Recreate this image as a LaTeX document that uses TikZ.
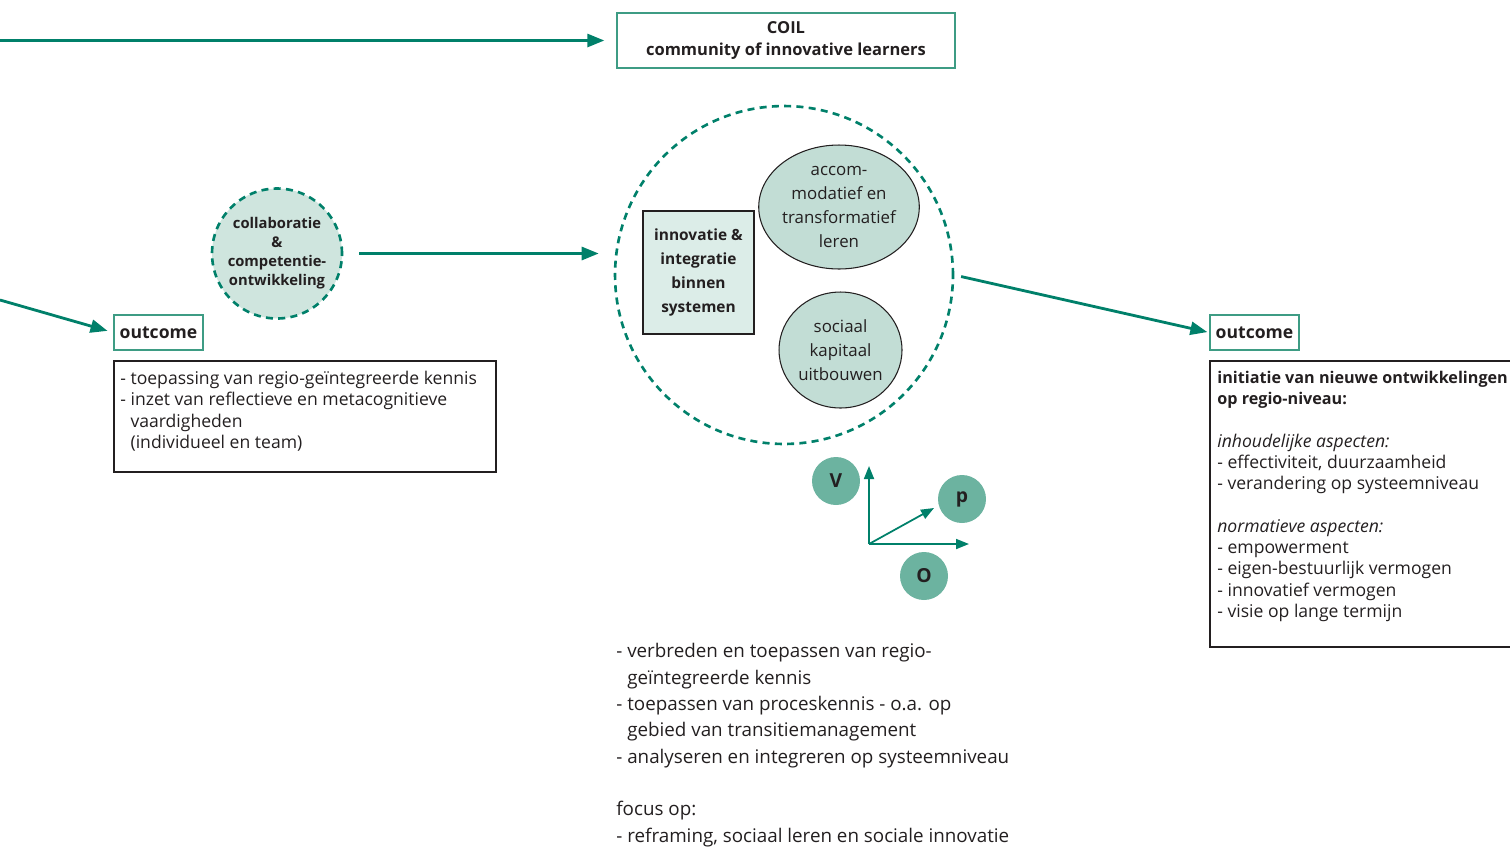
\documentclass[tikz,border=0pt]{standalone}
\usepackage{fontspec}
\setmainfont{Open Sans}
\usetikzlibrary{arrows.meta,shapes.geometric}
\definecolor{INK}{HTML}{231F20}
\definecolor{GREEN}{HTML}{00806A}
\definecolor{EDGE}{HTML}{3E9C84}
\definecolor{PALE}{HTML}{CFE5DE}
\definecolor{MINT}{HTML}{C2DDD5}
\definecolor{BOXF}{HTML}{DCEDE8}
\definecolor{DOT}{HTML}{6CB3A0}

\begin{document}
\begin{tikzpicture}[x=0.02cm,y=-0.02cm]
\tikzset{arr/.style={-{Triangle[length=3.4mm,width=2.6mm]},line width=1.6pt,GREEN},
 axarr/.style={-{Triangle[length=2.6mm,width=2mm]},line width=1pt,GREEN},
 dashring/.style={circle,draw=GREEN,line width=1.5pt,dash pattern=on 4pt off 3pt,inner sep=0},
 tagbox/.style={draw=EDGE,line width=0.8pt,font=\bfseries\fontsize{10}{12}\selectfont,inner sep=0,text=INK},
 txt/.style={inner sep=0,anchor=north west,align=left,text=INK,font=\fontsize{10}{12.1}\selectfont},
 blob/.style={ellipse,draw=INK,line width=0.6pt,fill=MINT,inner sep=0,align=center,text=INK,font=\fontsize{9.6}{13.6}\selectfont},
 dot/.style={circle,fill=DOT,minimum size=0.96cm,inner sep=0,text=INK,font=\bfseries\fontsize{11}{13}\selectfont}}
\useasboundingbox (0,0) rectangle (1510,846);
\clip (0,0) rectangle (1510,846);
% top: COIL
\node[tagbox,font=\bfseries\fontsize{9.4}{12}\selectfont,align=center,minimum width=6.76cm,minimum height=1.1cm] (coil) at (786,40.5) {COIL\\community of innovative learners};
\coordinate (topin) at (0,40.5);
\draw[arr,shorten >=0.24cm] (topin) -- (coil.west);
% left: collaboratie + outcome
\node[dashring,fill=PALE,minimum size=2.6cm,align=center,text=INK,font=\bfseries\fontsize{8.4}{10.8}\selectfont] (collab) at (277,253.5) {collaboratie\\\&\\competentie-\\ontwikkeling};
\node[tagbox,minimum width=1.78cm,minimum height=0.7cm] (outL) at (158.5,332.5) {outcome};
\coordinate (leftin) at (0,300);
\draw[arr,shorten >=0.12cm] (leftin) -- (outL.west);
\node[draw=INK,line width=0.7pt,minimum width=7.64cm,minimum height=2.22cm,inner sep=0] (resL) at (305,416.5) {};
\node[txt] (resLtxt) at (120,371) {- toepassing van regio-geïntegreerde kennis\\- inzet van reflectieve en metacognitieve\\\phantom{- }vaardigheden\\\phantom{- }(individueel en team)};
% centre
\node[dashring,minimum size=6.76cm] (coilring) at (784,275) {};
\draw[arr,shorten <=0.32cm,shorten >=0.3cm] (collab.east) -- (coilring.west |- collab.east);
\node[draw=INK,line width=0.6pt,fill=BOXF,minimum width=2.22cm,minimum height=2.46cm,inner sep=0,align=center,text=INK,font=\bfseries\fontsize{8.8}{13.6}\selectfont] (innov) at (698.5,272.5) {innovatie \&\\integratie\\binnen\\systemen};
\node[blob,minimum width=3cm,minimum height=2.48cm] (accom) at (839,207) {accom-\\modatief en\\transformatief\\leren};
\node[blob,minimum width=2.46cm,minimum height=2.32cm] (kapitaal) at (840.5,350) {sociaal\\kapitaal\\uitbouwen};
% vop axes
\node[dot] (v) at (836,481) {V};
\node[dot] (p) at (962,499) {p};
\node[dot] (o) at (924,576) {O};
\coordinate (orig) at (869,544);
\coordinate (axv) at (869,466);
\coordinate (axo) at (969,544);
\coordinate (axp) at (934,508);
\draw[axarr] (orig) -- (axv);
\draw[axarr] (orig) -- (axo);
\draw[axarr] (orig) -- (axp);
\node[txt,font=\fontsize{10.7}{15}\selectfont] (skills) at (616,643) {- verbreden en toepassen van regio-\\\phantom{- }geïntegreerde kennis\\- toepassen van proceskennis - o.a. op\\\phantom{- }gebied van transitiemanagement\\- analyseren en integreren op systeemniveau\\[15pt]focus op:\\- reframing, sociaal leren en sociale innovatie};
% right: outcome
\node[tagbox,minimum width=1.78cm,minimum height=0.7cm] (outR) at (1254.5,332.5) {outcome};
\draw[arr,shorten <=0.14cm,shorten >=0.04cm] (coilring.east) -- (outR.west);
\node[draw=INK,line width=0.7pt,minimum width=6.4cm,minimum height=5.72cm,inner sep=0] (resR) at (1370,504) {};
\node[txt] (resRtxt) at (1217,371) {{\bfseries\fontsize{9.2}{12.1}\selectfont initiatie van nieuwe ontwikkelingen}\\{\bfseries\fontsize{9.2}{12.1}\selectfont op regio-niveau:}\\[12.1pt]\textit{inhoudelijke aspecten:}\\- effectiviteit, duurzaamheid\\- verandering op systeemniveau\\[12.1pt]\textit{normatieve aspecten:}\\- empowerment\\- eigen-bestuurlijk vermogen\\- innovatief vermogen\\- visie op lange termijn};
\end{tikzpicture}
\end{document}
